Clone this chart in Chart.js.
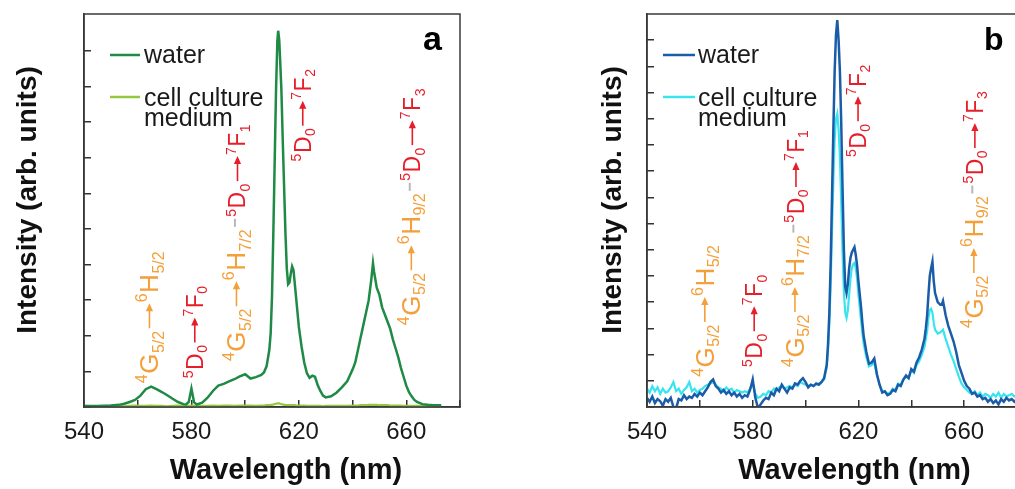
<!DOCTYPE html>
<html><head><meta charset="utf-8">
<script src="https://cdn.jsdelivr.net/npm/chart.js@4.4.0/dist/chart.umd.min.js"></script>
<style>
html,body{margin:0;padding:0;background:#fff;overflow:hidden;width:1015px;height:489px;position:relative;}
#wrapA{position:absolute;left:0;top:0;width:490px;height:489px;}
#wrapB{position:absolute;left:505px;top:0;width:530px;height:489px;}
canvas{display:block;}
</style></head><body>
<div id="wrapA"><canvas id="cA" width="490" height="489"></canvas></div>
<div id="wrapB"><canvas id="cB" width="530" height="489"></canvas></div>
<script>
const FAM = "'Liberation Sans', Arial, Helvetica, sans-serif";

// ---------------- DATA ----------------
const seriesNames = ['water', 'cell culture medium'];
const xTickValues = [540, 560, 580, 600, 620, 640, 660, 680];
const xTickLabels = [540, 580, 620, 660];
const yTicksA = [0, 1, 2, 3, 4, 5, 6, 7, 8, 9, 10];
const yTicksB = [0, 1, 2, 3, 4, 5, 6, 7, 8, 9, 10, 11, 12, 13, 14];

// Panel a
const wavelengthA = [
  540,545,550,553,555,557,559,561,563,565,
  567,569,571,573,575,577,578,579,580,581,
  582,584,586,588,590,592,594,596,598,600,
  602,604,606,607,608,609,609.5,610,610.5,611,
  611.5,612,612.3,612.7,613,613.5,614,614.5,615,615.5,
  616,616.5,617,617.5,618,618.5,619,619.5,620,621,
  622,623,624,625,626,627,628,629,630,632,
  634,636,638,640,641,642,643,644,645,646,
  647,647.6,648,649,650,651,652,653,654,655,
  656,657,658,659,660,661,662,663,664,666,
  668,670,673];
const waterA = [
  0.03,0.03,0.04,0.06,0.09,0.14,0.2,0.32,0.5,0.57,
  0.5,0.42,0.33,0.23,0.14,0.08,0.07,0.14,0.52,0.13,
  0.07,0.12,0.26,0.45,0.6,0.65,0.72,0.78,0.86,0.92,
  0.8,0.84,0.9,0.97,1.15,1.6,2.07,3.1,4.9,6.9,
  8.9,10.3,10.57,10.3,9.8,8.9,7.5,6.2,4.9,3.9,
  3.45,3.5,3.75,3.95,3.85,3.45,3.05,2.65,2.25,1.7,
  1.25,0.95,0.82,0.88,0.85,0.62,0.45,0.32,0.27,0.3,
  0.4,0.55,0.72,1.05,1.25,1.6,1.95,2.3,2.65,3.0,
  3.6,4.04,3.8,3.35,3.15,2.8,2.6,2.4,2.2,1.9,
  1.65,1.4,1.1,0.85,0.6,0.42,0.3,0.2,0.14,0.08,
  0.06,0.05,0.05];
const mediumA = [
  0.03,0.02,0.03,0.03,0.02,0.03,0.04,0.03,0.03,0.04,
  0.03,0.03,0.02,0.03,0.04,0.03,0.03,0.03,0.04,0.03,
  0.02,0.03,0.03,0.04,0.03,0.04,0.04,0.03,0.04,0.04,
  0.04,0.03,0.04,0.04,0.05,0.05,0.06,0.06,0.07,0.08,
  0.09,0.1,0.1,0.1,0.09,0.08,0.07,0.06,0.06,0.05,
  0.05,0.05,0.05,0.05,0.05,0.05,0.04,0.04,0.04,0.04,
  0.04,0.03,0.03,0.03,0.03,0.03,0.03,0.02,0.03,0.03,
  0.03,0.03,0.03,0.04,0.04,0.04,0.05,0.05,0.05,0.06,
  0.06,0.06,0.06,0.06,0.05,0.05,0.05,0.05,0.04,0.04,
  0.04,0.04,0.04,0.03,0.03,0.03,0.03,0.03,0.03,0.03,
  0.03,0.03,0.03];

// Panel b
const wavelengthB = [
  540,541,542,543,544,545,546,547,548,549,
  550,551,552,553,554,555,556,557,558,559,
  560,561,562,563,564,565,566,567,568,569,
  570,571,572,573,574,575,576,577,578,579,
  580,581,582,583,584,585,586,587,588,589,
  590,591,592,593,594,595,596,597,598,599,
  600,601,602,603,604,605,606,607,608,608.5,
  609,609.5,610,610.5,611,611.5,612,612.5,613,613.5,
  614,614.5,615,615.5,616,616.5,617,617.5,618,618.5,
  619,619.5,620,620.5,621,621.5,622,623,624,625,
  626,627,628,629,630,631,632,633,634,635,
  636,637,638,639,640,641,642,643,644,645,
  645.5,646,646.5,647,647.5,648,648.5,649,650,651,
  651.5,652,653,654,655,656,657,658,659,660,
  661,662,663,664,665,666,667,668,669,670,
  671,672,673,674,675,676,677,678,679,680];
const waterB = [
  0.35,0.2,0.4,0.15,0.3,0.22,0.05,0.3,0.2,0.35,
  0.0,-0.05,0.3,0.25,0.45,0.3,0.4,0.35,0.5,0.4,
  0.55,0.45,0.6,0.75,0.95,1.05,0.8,0.7,0.55,0.65,
  0.5,0.6,0.45,0.55,0.4,0.5,0.35,0.45,0.4,0.65,
  1.05,0.35,-0.05,0.1,0.25,0.35,0.3,0.55,0.45,0.7,
  0.6,0.85,0.7,0.55,0.75,0.7,0.9,0.85,1.0,1.1,
  0.95,0.75,0.85,0.8,0.9,0.85,0.95,1.1,1.6,2.4,
  3.6,5.5,8.0,10.5,12.8,14.2,14.77,14.0,12.8,10.8,
  8.3,6.0,4.6,4.35,4.7,5.3,5.7,5.9,6.0,6.1,
  5.8,5.4,4.8,4.3,3.8,3.2,2.7,2.1,1.65,1.7,
  1.85,1.25,0.85,0.55,0.6,0.45,0.5,0.65,0.6,0.85,
  0.8,1.05,1.2,1.1,1.45,1.35,1.7,1.9,2.2,2.6,
  3.0,3.5,4.3,5.0,5.3,5.55,4.8,4.35,4.0,3.9,
  3.9,4.05,3.5,3.1,2.8,2.5,2.1,1.6,1.3,1.0,
  0.8,0.7,0.5,0.55,0.4,0.45,0.3,0.35,0.2,0.3,
  0.15,0.25,0.1,0.3,0.2,0.35,0.25,0.3,0.2,0.3];
const mediumB = [
  0.7,0.55,0.8,0.6,0.75,0.5,0.7,0.55,0.6,0.75,
  0.95,0.6,0.7,0.5,0.65,0.75,0.95,0.6,0.7,0.55,
  0.65,0.7,0.8,0.85,0.9,0.95,0.85,0.75,0.7,0.6,
  0.75,0.65,0.7,0.55,0.65,0.6,0.55,0.6,0.55,0.7,
  0.9,0.5,0.35,0.4,0.5,0.45,0.6,0.55,0.7,0.65,
  0.75,0.8,0.7,0.75,0.8,0.75,0.85,0.8,0.95,0.9,
  0.85,0.8,0.85,0.8,0.85,0.9,0.95,1.05,1.5,2.2,
  3.2,4.7,6.7,8.6,10.2,11.0,11.2,10.6,9.5,7.8,
  5.9,4.4,3.6,3.4,3.7,4.3,4.9,5.3,5.45,5.5,
  5.3,4.9,4.3,3.8,3.3,2.8,2.4,1.9,1.55,1.6,
  1.7,1.2,0.85,0.6,0.6,0.5,0.55,0.7,0.65,0.9,
  0.85,1.05,1.15,1.1,1.4,1.3,1.6,1.75,2.0,2.3,
  2.6,2.9,3.4,3.7,3.75,3.6,3.2,2.95,2.8,2.85,
  2.9,2.95,2.6,2.3,2.0,1.75,1.45,1.15,0.9,0.75,
  0.65,0.55,0.5,0.6,0.45,0.55,0.4,0.5,0.45,0.35,
  0.5,0.4,0.55,0.35,0.5,0.4,0.45,0.5,0.4,0.45];

// ---------------- STYLE ----------------
const ORANGE = '#f4a03a';
const RED = '#e61e2a';

function orangeLabel(s1, s2) {
  return {color: ORANGE, f: 26, parts: [
    {t: '4', k: 'sup'}, {t: 'G'}, {t: s1, k: 'sub'}, {k: 'arrow'},
    {t: '6', k: 'sup'}, {t: 'H'}, {t: s2, k: 'sub'}]};
}
function redLabel(n) {
  return {color: RED, f: 23, parts: [
    {t: '5', k: 'sup'}, {t: 'D'}, {t: '0', k: 'sub'}, {k: 'arrow'},
    {t: '7', k: 'sup'}, {t: 'F'}, {t: n, k: 'sub'}]};
}
const SEP = {sep: true};

const panelA = {
  wl: wavelengthA, water: waterA, medium: mediumA,
  c1: '#1f8a45', c2: '#95c83f',
  yMax: 11.04, yTicks: yTicksA, yWidth: 84, padRight: 30,
  yTitleX: 28, yTitleY: 200, xTitleX: 286,
  legLine: [110, 140], legText: 144,
  letter: 'a', letterX: 423, letterSize: 34,
  ann: [
    {x: 564.2, y: 0.67, segs: [orangeLabel('5/2', '5/2')]},
    {x: 581.1, y: 0.81, segs: [redLabel('0')]},
    {x: 596.6, y: 1.29, segs: [orangeLabel('5/2', '7/2'), SEP, redLabel('1')]},
    {x: 621.3, y: 6.9, segs: [redLabel('2')]},
    {x: 661.7, y: 2.3, segs: [orangeLabel('5/2', '9/2'), SEP, redLabel('3')]}
  ]
};
const panelB = {
  wl: wavelengthB, water: waterB, medium: mediumB,
  c1: '#1b5ca8', c2: '#38e4ef',
  yMax: 15.0, yTicks: yTicksB, yWidth: 142, padRight: 14,
  yTitleX: 108, yTitleY: 200, xTitleX: 349.5,
  legLine: [158, 190], legText: 193,
  letter: 'b', letterX: 479, letterSize: 32,
  ann: [
    {x: 561.7, y: 1.15, segs: [orangeLabel('5/2', '5/2')]},
    {x: 580.4, y: 1.53, segs: [redLabel('0')]},
    {x: 595.8, y: 1.53, segs: [orangeLabel('5/2', '7/2'), SEP, redLabel('1')]},
    {x: 619.7, y: 9.54, segs: [redLabel('2')]},
    {x: 663.5, y: 3.02, segs: [orangeLabel('5/2', '9/2'), SEP, redLabel('3')]}
  ]
};

function drawArrow(ctx, u0, len, v, col) {
  ctx.save();
  ctx.strokeStyle = col; ctx.fillStyle = col; ctx.lineWidth = 1.6;
  ctx.beginPath(); ctx.moveTo(u0 + 1, v); ctx.lineTo(u0 + len - 5, v); ctx.stroke();
  ctx.beginPath(); ctx.moveTo(u0 + len, v); ctx.lineTo(u0 + len - 8, v - 3.6); ctx.lineTo(u0 + len - 8, v + 3.6); ctx.closePath(); ctx.fill();
  ctx.restore();
}

function drawLabel(ctx, px, py, segs) {
  const f0 = segs[0].f;
  ctx.save();
  ctx.translate(px + 0.716 * f0 / 2, py);
  ctx.rotate(-Math.PI / 2);
  ctx.textBaseline = 'alphabetic';
  ctx.textAlign = 'left';
  let u = 0;
  segs.forEach(seg => {
    if (seg.sep) {
      ctx.strokeStyle = '#b8b8b8'; ctx.lineWidth = 2;
      ctx.beginPath(); ctx.moveTo(u + 2, -0.4 * f0); ctx.lineTo(u + 10, -0.4 * f0); ctx.stroke();
      u += 12;
      return;
    }
    const f = seg.f, s = Math.round(f * 0.6);
    ctx.fillStyle = seg.color;
    seg.parts.forEach(p => {
      if (p.k === 'arrow') {
        drawArrow(ctx, u + 1, 26, -0.34 * f, seg.color);
        u += 28;
        return;
      }
      const fs = p.k ? s : f;
      ctx.font = fs + 'px ' + FAM;
      const v = p.k === 'sup' ? -0.42 * f : (p.k === 'sub' ? 0.2 * f : 0);
      ctx.fillText(p.t, u, v);
      u += ctx.measureText(p.t).width + 0.5;
    });
  });
  ctx.restore();
}

function decor(P) {
  return {
    id: 'decor',
    afterDraw(chart) {
      const ctx = chart.ctx, ca = chart.chartArea;
      const xs = chart.scales.x, ys = chart.scales.y;
      ctx.save();
      // frame
      ctx.strokeStyle = '#3a3a3a'; ctx.lineWidth = 1.5;
      ctx.strokeRect(ca.left, ca.top, ca.right - ca.left, ca.bottom - ca.top);
      // y title
      ctx.save();
      ctx.translate(P.yTitleX, P.yTitleY);
      ctx.rotate(-Math.PI / 2);
      ctx.font = 'bold 28px ' + FAM;
      ctx.fillStyle = '#111';
      ctx.textAlign = 'center'; ctx.textBaseline = 'middle';
      ctx.fillText('Intensity (arb. units)', 0, 0);
      ctx.restore();
      // x title
      ctx.font = 'bold 29px ' + FAM;
      ctx.fillStyle = '#111';
      ctx.textAlign = 'center'; ctx.textBaseline = 'alphabetic';
      ctx.fillText('Wavelength (nm)', P.xTitleX, 479);
      // legend
      ctx.lineWidth = 2.5;
      ctx.strokeStyle = P.c1;
      ctx.beginPath(); ctx.moveTo(P.legLine[0], 55); ctx.lineTo(P.legLine[1], 55); ctx.stroke();
      ctx.strokeStyle = P.c2;
      ctx.beginPath(); ctx.moveTo(P.legLine[0], 97); ctx.lineTo(P.legLine[1], 97); ctx.stroke();
      ctx.font = '25px ' + FAM;
      ctx.fillStyle = '#1a1a1a';
      ctx.textAlign = 'left';
      ctx.fillText(seriesNames[0], P.legText, 63);
      ctx.fillText('cell culture', P.legText, 106);
      ctx.fillText('medium', P.legText, 126);
      // panel letter
      ctx.font = 'bold ' + P.letterSize + 'px ' + FAM;
      ctx.fillStyle = '#000';
      ctx.fillText(P.letter, P.letterX, 50);
      // annotations
      P.ann.forEach(a => {
        drawLabel(ctx, xs.getPixelForValue(a.x), ys.getPixelForValue(a.y), a.segs);
      });
      ctx.restore();
    }
  };
}

function build(id, P) {
  const gridOpts = {drawOnChartArea: false, drawTicks: true, tickLength: -7, color: '#333', lineWidth: 1.5};
  const borderOpts = {display: true, color: '#333', width: 1.5};
  return new Chart(document.getElementById(id), {
    type: 'line',
    data: {
      datasets: [
        {label: seriesNames[0], data: P.wl.map((x, i) => ({x: x, y: P.water[i]})),
         borderColor: P.c1, borderWidth: 2.5, pointRadius: 0, tension: 0, fill: false},
        {label: seriesNames[1], data: P.wl.map((x, i) => ({x: x, y: P.medium[i]})),
         borderColor: P.c2, borderWidth: 2.2, pointRadius: 0, tension: 0, fill: false}
      ]
    },
    options: {
      responsive: false, animation: false, devicePixelRatio: 1, events: [],
      layout: {padding: {left: 0, top: 14, right: P.padRight, bottom: 0}},
      plugins: {legend: {display: false}, tooltip: {enabled: false}},
      scales: {
        x: {
          type: 'linear', min: 540, max: 680,
          afterBuildTicks: s => { s.ticks = xTickValues.map(v => ({value: v})); },
          afterFit: s => { s.height = 82; },
          ticks: {autoSkip: false, maxRotation: 0, minRotation: 0, padding: 18, color: '#1a1a1a',
                  font: {size: 24, family: FAM},
                  callback: v => xTickLabels.includes(v) ? String(v) : ''},
          grid: gridOpts, border: borderOpts
        },
        y: {
          type: 'linear', min: 0, max: P.yMax,
          afterBuildTicks: s => { s.ticks = P.yTicks.map(v => ({value: v})); },
          afterFit: s => { s.width = P.yWidth; },
          ticks: {display: false},
          grid: gridOpts, border: borderOpts
        }
      }
    },
    plugins: [decor(P)]
  });
}

build('cA', panelA);
build('cB', panelB);
</script>
</body></html>
